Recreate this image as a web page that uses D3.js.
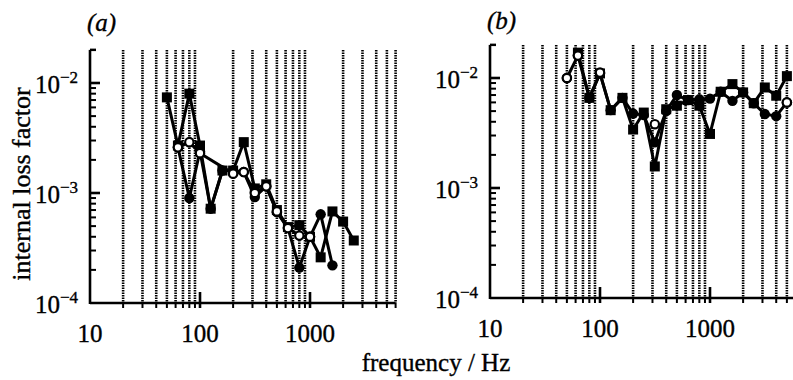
<!DOCTYPE html>
<html>
<head>
<meta charset="utf-8">
<script src="https://cdn.jsdelivr.net/npm/d3@7"></script>
<style>
  body { margin: 0; background: #fff; }
  svg { display: block; }
  text { font-family: "Liberation Serif", "DejaVu Serif", serif; fill: #000; stroke: #000; stroke-width: 0.35px; }
</style>
</head>
<body>
<div id="chart"></div>
<script>
// one-third octave band centre frequencies used by the measurements
var freqs = [50, 63, 80, 100, 125, 160, 200, 250, 315, 400, 500, 630, 800, 1000, 1250, 1600, 2000, 2500, 3150, 4000, 5000];

// panel (a) - null means no point at that band
var aSquares = [7.4e-3, 2.7e-3, 8.0e-3, 2.7e-3, 7.2e-4, 1.6e-3, 1.6e-3, 2.9e-3, 1.1e-3, 1.2e-3, 7.0e-4, 4.9e-4, 5.1e-4, 4.0e-4, 2.6e-4, 6.8e-4, 5.5e-4, 3.7e-4, null, null, null];
var aCircles = [null, 2.6e-3, 9.0e-4, 2.4e-3, 7.2e-4, 1.6e-3, 1.6e-3, 1.55e-3, 9.2e-4, 1.15e-3, 6.7e-4, 4.8e-4, 2.1e-4, 4.0e-4, 6.4e-4, 2.2e-4, null, null, null, null, null];
var aOpen    = [null, 2.6e-3, 2.9e-3, 2.3e-3, null, null, 1.5e-3, 1.55e-3, 1.0e-3, 1.15e-3, 6.8e-4, 4.8e-4, 4.1e-4, 4.0e-4, null, null, null, null, null, null, null];

// panel (b)
var bSquares = [null, 1.7e-2, 6.6e-3, 1.1e-2, 5.1e-3, 6.6e-3, 3.4e-3, 4.85e-3, 1.57e-3, 5.2e-3, 5.6e-3, 6.3e-3, 5.6e-3, 3.1e-3, 7.5e-3, 8.8e-3, 7.4e-3, 5.9e-3, 8.2e-3, 6.9e-3, 1.04e-2];
var bCircles = [1.0e-2, 1.6e-2, 6.6e-3, 1.1e-2, 5.1e-3, 6.6e-3, 4.75e-3, 4.6e-3, 2.6e-3, 5.0e-3, 7.0e-3, 6.3e-3, 6.4e-3, 6.5e-3, 7.5e-3, 6.2e-3, 7.4e-3, 5.9e-3, 4.7e-3, 4.5e-3, 6.0e-3];
var bOpen    = [1.0e-2, 1.6e-2, null, 1.12e-2, null, null, null, null, 3.8e-3, null, null, null, null, null, null, null, null, null, null, null, 6.0e-3];

// axis ticks
var gridFreqs = [20, 30, 40, 50, 60, 70, 80, 90, 200, 300, 400, 500, 600, 700, 800, 900, 2000, 3000, 4000, 5000, 6000];
var xMajor = [100, 1000];
var xLabels = [10, 100, 1000];
var yMajor = [1e-4, 1e-3, 1e-2];
var yLabels = ["\u22124", "\u22123", "\u22122"];
var yMinor = [2e-4, 3e-4, 4e-4, 5e-4, 6e-4, 7e-4, 8e-4, 9e-4, 2e-3, 3e-3, 4e-3, 5e-3, 6e-3, 7e-3, 8e-3, 9e-3, 2e-2];

var svg = d3.select("#chart").append("svg").attr("width", 793).attr("height", 380);

function series(vals) {
    return freqs.map((f, i) => ({ f: f, v: vals[i] })).filter(d => d.v != null);
}

function drawPanel(p) {
    var x = d3.scaleLog().domain([10, 6000]).range([p.left, p.left + p.dec * Math.log10(600)]);
    var y = d3.scaleLog().domain([1e-4, 2e-2]).range([p.bottom, p.bottom - p.dec * Math.log10(200)]);
    var g = svg.append("g");
    var top = y(2e-2), right = x(6000);

    // dotted grid lines
    g.selectAll(".grid").data(gridFreqs).enter().append("line")
        .attr("x1", d => x(d)).attr("x2", d => x(d))
        .attr("y1", top).attr("y2", p.bottom)
        .attr("stroke", "#000").attr("stroke-width", 2.6)
        .attr("stroke-dasharray", "1.5,1");

    // x axis
    g.append("line").attr("x1", p.left).attr("x2", right)
        .attr("y1", p.bottom).attr("y2", p.bottom)
        .attr("stroke", "#000").attr("stroke-width", 2.6);
    g.selectAll(".xmin").data(gridFreqs).enter().append("line")
        .attr("x1", d => x(d)).attr("x2", d => x(d))
        .attr("y1", p.bottom).attr("y2", p.bottom + 5)
        .attr("stroke", "#000").attr("stroke-width", 2);
    g.selectAll(".xmaj").data(xMajor).enter().append("line")
        .attr("x1", d => x(d)).attr("x2", d => x(d))
        .attr("y1", p.bottom - 11).attr("y2", p.bottom + 5)
        .attr("stroke", "#000").attr("stroke-width", 2.6);
    g.selectAll(".xlab").data(xLabels).enter().append("text")
        .attr("x", d => x(d)).attr("y", p.bottom + 39)
        .attr("text-anchor", "middle").style("font-size", "25px")
        .text(d => d);

    // y axis
    g.append("line").attr("x1", p.left).attr("x2", p.left)
        .attr("y1", top).attr("y2", p.bottom + 1)
        .attr("stroke", "#000").attr("stroke-width", 2.6);
    g.append("line").attr("x1", p.left).attr("x2", p.left + 6)
        .attr("y1", top).attr("y2", top)
        .attr("stroke", "#000").attr("stroke-width", 2.4);
    g.selectAll(".ymin").data(yMinor).enter().append("line")
        .attr("x1", p.left).attr("x2", p.left + 6)
        .attr("y1", d => y(d)).attr("y2", d => y(d))
        .attr("stroke", "#000").attr("stroke-width", 2);
    g.selectAll(".ymaj").data(yMajor.slice(1)).enter().append("line")
        .attr("x1", p.left).attr("x2", p.left + 10)
        .attr("y1", d => y(d)).attr("y2", d => y(d))
        .attr("stroke", "#000").attr("stroke-width", 2.6);
    var yl = g.selectAll(".ylab").data(yMajor).enter().append("text")
        .attr("x", p.left - 12).attr("y", d => y(d) + 10)
        .attr("text-anchor", "end").style("font-size", "25px");
    yl.append("tspan").text("10");
    yl.append("tspan").attr("dy", -10).style("font-size", "17px").text((d, i) => yLabels[i]);

    // panel letter
    g.append("text").attr("x", p.left - 3).attr("y", p.labelY)
        .style("font-size", "25px").style("font-style", "italic")
        .text(p.label);

    // data lines and markers
    var line = d3.line().x(d => x(d.f)).y(d => y(d.v));
    p.data.forEach(s => {
        var pts = series(s.vals);
        if (s.joined) {
            g.append("path").datum(pts)
                .attr("fill", "none").attr("stroke", "#000").attr("stroke-width", 3)
                .attr("stroke-linejoin", "round").attr("d", line);
        }
        if (s.shape === "square") {
            g.selectAll(null).data(pts).enter().append("rect")
                .attr("x", d => x(d.f) - 5).attr("y", d => y(d.v) - 5)
                .attr("width", 10).attr("height", 10).attr("fill", "#000");
        } else if (s.shape === "circle") {
            g.selectAll(null).data(pts).enter().append("circle")
                .attr("cx", d => x(d.f)).attr("cy", d => y(d.v))
                .attr("r", 5.2).attr("fill", "#000");
        } else {
            g.selectAll(null).data(pts).enter().append("circle")
                .attr("cx", d => x(d.f)).attr("cy", d => y(d.v))
                .attr("r", 4.2).attr("fill", "#fff")
                .attr("stroke", "#000").attr("stroke-width", 2.2);
        }
    });
}

drawPanel({ left: 90, bottom: 303, dec: 110, label: "(a)", labelY: 31,
    data: [{ vals: aCircles, shape: "circle", joined: true },
           { vals: aSquares, shape: "square", joined: true },
           { vals: aOpen, shape: "open", joined: true }] });
drawPanel({ left: 490, bottom: 298, dec: 110, label: "(b)", labelY: 29,
    data: [{ vals: bCircles, shape: "circle", joined: true },
           { vals: bSquares, shape: "square", joined: true },
           { vals: bOpen, shape: "open", joined: false }] });

// shared axis titles
svg.append("text")
    .attr("transform", "translate(30,184) rotate(-90)")
    .attr("text-anchor", "middle").style("font-size", "26px")
    .text("internal loss factor");
svg.append("text")
    .attr("x", 436).attr("y", 371)
    .attr("text-anchor", "middle").style("font-size", "25px")
    .text("frequency / Hz");
</script>
</body>
</html>
